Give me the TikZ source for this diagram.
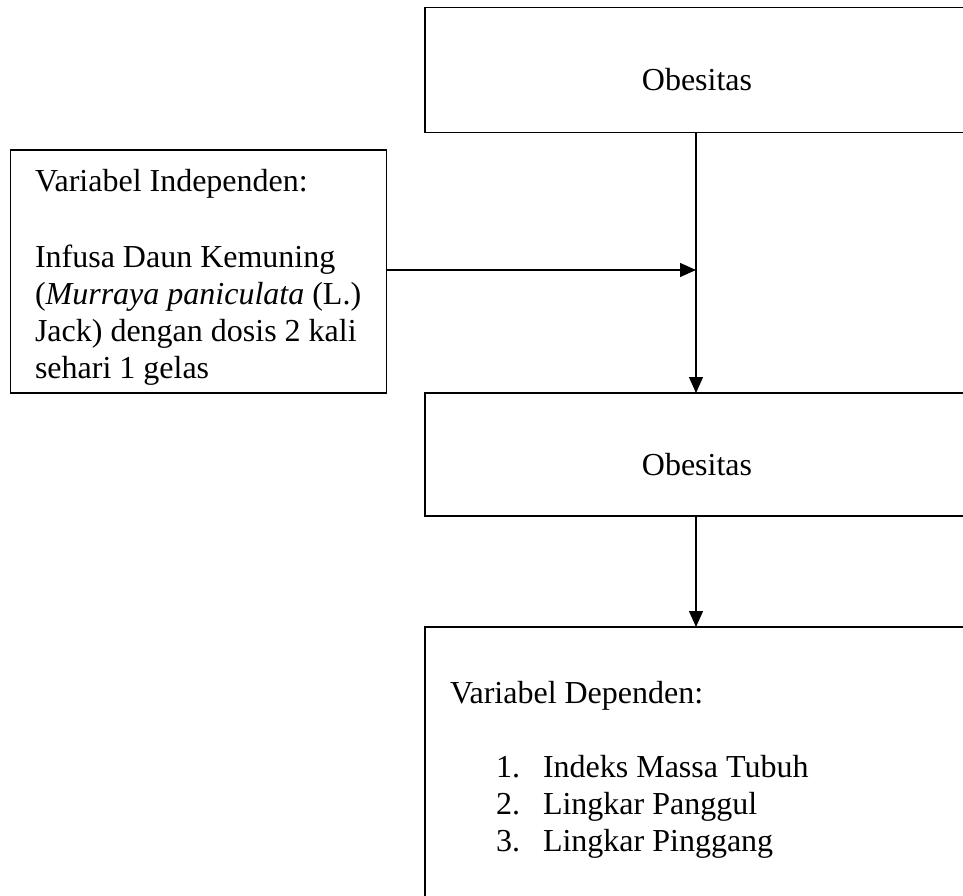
\documentclass[tikz,border=0pt]{standalone}
\usepackage{fontspec}
\setmainfont{Liberation Serif}
\usetikzlibrary{arrows.meta}
\tikzset{
  boxline/.style={draw=black, line width=1.3pt, inner sep=0pt, outer sep=0pt, rectangle},
  txt/.style={inner sep=0pt, outer sep=0pt, anchor=base west, font=\fontsize{32}{37}\selectfont},
  ctxt/.style={inner sep=0pt, outer sep=0pt, anchor=base, font=\fontsize{32}{37}\selectfont},
  arr/.style={draw=black, line width=1.3pt, -{Triangle[length=16pt,width=14pt]}}
}
\begin{document}
\begin{tikzpicture}[x=1pt,y=-1pt]
\useasboundingbox (0,0) rectangle (963,896);
\clip (0,0) rectangle (963,896);
% boxes
\node[boxline, minimum width=555pt, minimum height=125pt] (top) at (702.5,70) {};
\node[boxline, minimum width=376pt, minimum height=243pt] (left) at (198.5,271.5) {};
\node[boxline, minimum width=555pt, minimum height=123pt] (mid) at (702.5,454.5) {};
\node[boxline, minimum width=555pt, minimum height=300pt] (bot) at (702.5,777) {};
% texts
\node[ctxt] (t1) at (697,91) {Obesitas};
\node[ctxt] (t2) at (697,475) {Obesitas};
\node[txt] (l1) at (35,192) {Variabel Independen:};
\node[txt] (l2) at (35,267) {Infusa Daun Kemuning};
\node[txt] (l3) at (35,304) {(\textit{Murraya paniculata} (L.)};
\node[txt] (l4) at (35,341) {Jack) dengan dosis 2 kali};
\node[txt] (l5) at (35,378) {sehari 1 gelas};
\node[txt] (d1) at (450,703) {Variabel Dependen:};
\node[txt] (n1) at (496,777) {1.};
\node[txt] (i1) at (543,777) {Indeks Massa Tubuh};
\node[txt] (n2) at (496,814) {2.};
\node[txt] (i2) at (543,814) {Lingkar Panggul};
\node[txt] (n3) at (496,851) {3.};
\node[txt] (i3) at (543,851) {Lingkar Pinggang};
% connectors
\coordinate (cx) at (696,0);
\coordinate (hy) at (0,270);
\draw[arr] (top.south -| cx) -- (mid.north -| cx);
\draw[arr] (left.east |- hy) -- (cx |- hy);
\draw[arr] (mid.south -| cx) -- (bot.north -| cx);
\end{tikzpicture}
\end{document}
